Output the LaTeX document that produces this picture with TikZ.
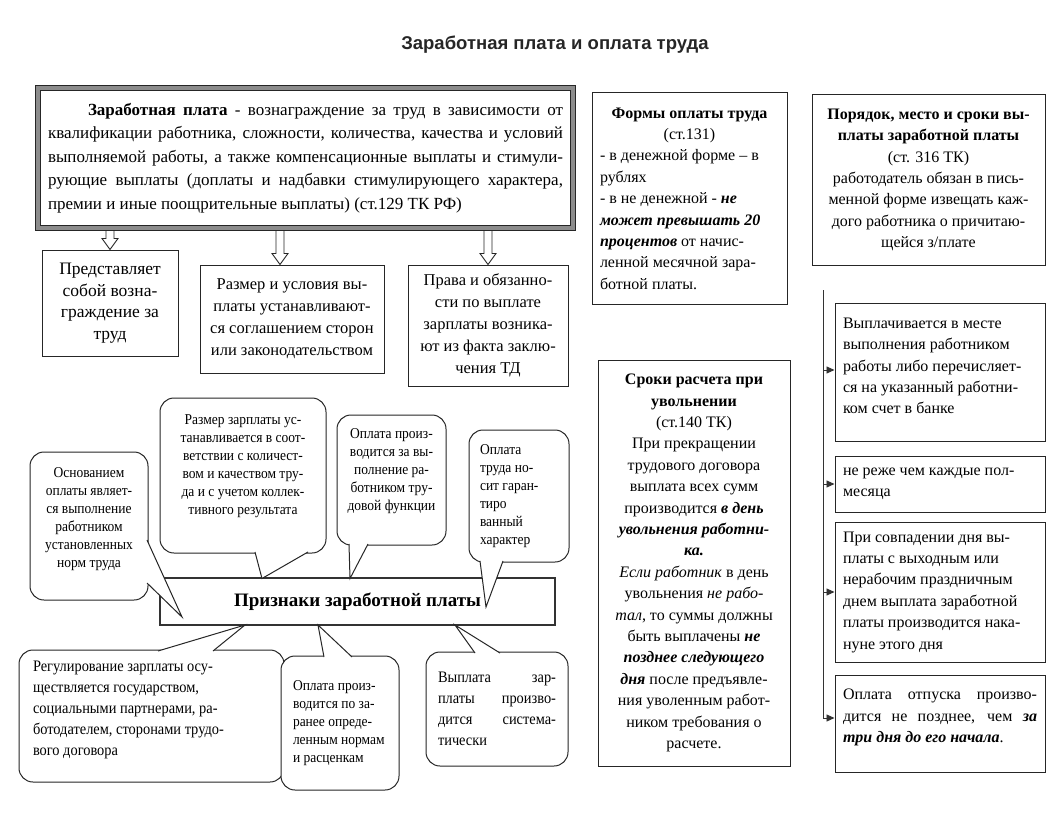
\documentclass[tikz,border=0pt]{standalone}
\usepackage{fontspec}
\setmainfont{Liberation Serif}
\newfontfamily\titlefont{Liberation Sans}
\newfontfamily\nserif[FakeStretch=0.9]{Liberation Serif}
\usetikzlibrary{calc,arrows.meta}
\newlength\bxs \setlength\bxs{8pt}
\newlength\bys \setlength\bys{4pt}
\newcommand\jl[1]{\makebox[\linewidth][s]{#1}}
\newcommand\bi[1]{\textbf{\textit{#1}}}
\newcommand\fA{\fontsize{17}{23.5}\selectfont}
\newcommand\fB{\fontsize{16.5}{22}\selectfont}
\newcommand\fBB{\fontsize{17.5}{21.5}\selectfont}
\newcommand\fC{\fontsize{16}{21.4}\selectfont}
\newcommand\fD{\nserif\fontsize{15}{18}\selectfont}
\newcommand\fE{\nserif\fontsize{16}{21}\selectfont}
\newcommand\mybox[8][]{%
 \node[boxst,#1] (#2) at ({(#3+#5)/2},{(#4+#6)/2})
 {\parbox[c][\dimexpr #6pt-#4pt-2\bys\relax][c]{\dimexpr #5pt-#3pt-2\bxs\relax}{#7#8}};}
\newcommand\ptr[3]{\fill[white] (#1) -- (#3) -- (#2) -- cycle; \draw[ptrst] (#1) -- (#3) -- (#2);}
\newcommand\harrow[2]{\draw[harrowst] ($(#1)+(-4,0)$) -- ($(#2)+(-4,-11)$) -- ($(#2)+(-8,-11)$) -- (#2) -- ($(#2)+(8,-11)$) -- ($(#2)+(4,-11)$) -- ($(#1)+(4,0)$);}
\tikzset{
 boxst/.style={draw=black!85, line width=1pt, fill=white, inner xsep=\bxs, inner ysep=\bys},
 mainst/.style={draw=black!85, line width=1pt, double=black!45, double distance=4pt},
 callst/.style={rounded corners=14pt},
 prizst/.style={line width=1.6pt, draw=black!80},
 ptrst/.style={draw=black!85, line width=1pt, line join=miter},
 harrowst/.style={draw=black!85, line width=0.9pt, fill=white},
 connst/.style={draw=black!80, line width=0.9pt},
 arrst/.style={connst, -{Triangle[length=8pt,width=7pt]}}
}
\begin{document}
\begin{tikzpicture}[x=1pt,y=-1pt]
\useasboundingbox (0,0) rectangle (1062,832);
\fill[white] (0,0) rectangle (1062,832);

\node[font=\titlefont\bfseries\fontsize{18.5}{22}\selectfont, text=black!85] (title) at (555,45) {Заработная плата и оплата труда};

% main definition box
\mybox[mainst,inner xsep=10pt]{main}{40}{88}{571}{228}{\fA}{%
\jl{\hspace*{40pt}\textbf{Заработная плата} - вознаграждение за труд в зависимости от}\\
\jl{квалификации работника, сложности, количества, качества и условий}\\
\jl{выполняемой работы, а также компенсационные выплаты и стимули-}\\
\jl{рующие выплаты (доплаты и надбавки стимулирующего характера,}\\
премии и иные поощрительные выплаты) (ст.129 ТК РФ)}

\mybox{b1}{42}{250}{178}{356}{\fBB\centering}{Представляет\\собой возна-\\граждение за\\труд}
\mybox{b2}{200}{265}{384}{373}{\fB\centering}{Размер и условия вы-\\платы устанавливают-\\ся соглашением сторон\\или законодательством}
\mybox{b3}{408}{265}{568}{386}{\fB\centering}{Права и обязанно-\\сти по выплате\\зарплаты возника-\\ют из факта заклю-\\чения ТД}

\coordinate (t1) at (b1.north);
\coordinate (t2) at ($(b2.north)+(-12,0)$);
\coordinate (t3) at (b3.north);
\coordinate (s1) at ($(main.south -| t1)+(0,2.5)$);
\coordinate (s2) at ($(main.south -| t2)+(0,2.5)$);
\coordinate (s3) at ($(main.south -| t3)+(0,2.5)$);
\harrow{s1}{t1}
\harrow{s2}{t2}
\harrow{s3}{t3}

% forms of payment
\mybox{forms}{592}{93}{787}{304}{\fC}{%
{\centering\textbf{Формы оплаты труда}\\(ст.131)\par}\raggedright
- в денежной форме – в\\рублях\\- в не денежной - \bi{не}\\\bi{может превышать 20}\\\bi{процентов} от начис-\\ленной месячной зара-\\ботной платы.}

% order
\mybox{order}{812}{95}{1045}{265}{\fC\centering}{%
\textbf{Порядок, место и сроки вы-}\\\textbf{платы заработной платы}\\(ст. 316 ТК)\\работодатель обязан в пись-\\менной форме извещать каж-\\дого работника о причитаю-\\щейся з/плате}

% right sub boxes
\mybox{ra}{835}{303}{1045}{441}{\fC\raggedright}{Выплачивается в месте\\выполнения работником\\работы либо перечисляет-\\ся на указанный работни-\\ком счет в банке\par\vspace{12pt}}
\mybox{rb}{835}{456}{1045}{512}{\fC\raggedright}{не реже чем каждые пол-\\месяца}
\mybox{rc}{835}{522}{1045}{662}{\fC\raggedright}{При совпадении дня вы-\\платы с выходным или\\нерабочим праздничным\\днем выплата заработной\\платы производится нака-\\нуне этого дня}
\mybox{rd}{835}{675}{1045}{772}{\fC\raggedright}{\jl{Оплата отпуска произво-}\\\jl{дится не позднее, чем \bi{за}}\\\bi{три дня до его начала}.\par\vspace{12pt}}

\coordinate (vt) at (823,290);
\coordinate (vb) at (823,718);
\draw[connst] (vt) -- (vb);
\draw[arrst] (vt |- 0,370) -- (ra.west |- 0,370);
\draw[arrst] (vt |- rb.west) -- (rb.west);
\draw[arrst] (vt |- rc.west) -- (rc.west);
\draw[arrst] (vb) -- (rd.west |- vb);

% dismissal
\mybox{dism}{598}{360}{790}{766}{\fC\centering}{%
\textbf{Сроки расчета при}\\\textbf{увольнении}\\(ст.140 ТК)\\При прекращении\\трудового договора\\выплата всех сумм\\производится \bi{в день}\\\bi{увольнения работни-}\\\bi{ка.}\\\textit{Если работник} в день\\увольнения \textit{не рабо-}\\\textit{тал}, то суммы должны\\быть выплачены \bi{не}\\\bi{позднее следующего}\\\bi{дня} после предъявле-\\ния уволенным работ-\\ником требования о\\расчете.}

% features box
\node[prizst, minimum width=395pt, minimum height=47pt, inner sep=0pt, font=\bfseries\fontsize{19}{22}\selectfont] (priz) at (357.5,601.5) {Признаки заработной платы};

% callouts
\mybox[callst]{c1}{30}{452}{148}{600}{\fD\centering}{Основанием\\оплаты являет-\\ся выполнение\\работником\\установленных\\норм труда\par\vspace{14pt}}
\mybox[callst]{c2}{160}{398}{326}{553}{\fD\centering}{Размер зарплаты ус-\\танавливается в соот-\\ветствии с количест-\\вом и качеством тру-\\да и с учетом коллек-\\тивного результата\par\vspace{18pt}}
\mybox[callst]{c3}{337}{415}{446}{545}{\fD\centering}{Оплата произ-\\водится за вы-\\полнение ра-\\ботником тру-\\довой функции\par\vspace{18pt}}
\mybox[callst,inner xsep=11pt]{c4}{472}{430}{566}{562}{\fD\raggedright}{Оплата\\труда но-\\сит гаран-\\тиро\\ванный\\характер}
\mybox[callst,inner xsep=14pt]{c5}{25}{650}{278}{782}{\fE\raggedright}{Регулирование зарплаты осу-\\ществляется государством,\\социальными партнерами, ра-\\ботодателем, сторонами трудо-\\вого договора\par\vspace{12pt}}
\mybox[callst,inner xsep=12pt]{c6}{285}{656}{395}{790}{\fD\raggedright}{Оплата произ-\\водится по за-\\ранее опреде-\\ленным нормам\\и расценкам}
\mybox[callst,inner xsep=12pt]{c7}{430}{652}{564}{766}{\fE\raggedright}{\jl{Выплата зар-}\\\jl{платы произво-}\\\jl{дится система-}\\тически}

\coordinate (p1a) at (147,540); \coordinate (p1b) at (147,583); \coordinate (p1t) at (182,617);
\coordinate (p2a) at (255,552); \coordinate (p2b) at (308,552); \coordinate (p2t) at (262,578.5);
\coordinate (p3a) at (349,544); \coordinate (p3b) at (368,544); \coordinate (p3t) at (350,578.5);
\coordinate (p4a) at (480,561); \coordinate (p4b) at (503,561); \coordinate (p4t) at (486,607);
\coordinate (p5a) at (158,651); \coordinate (p5b) at (213,651); \coordinate (p5t) at (245,625);
\coordinate (p6a) at (324,657); \coordinate (p6b) at (352,657); \coordinate (p6t) at (318,625);
\coordinate (p7a) at (475,653); \coordinate (p7b) at (500,653); \coordinate (p7t) at (455,625);
\ptr{p1a}{p1b}{p1t}
\ptr{p2a}{p2b}{p2t}
\ptr{p3a}{p3b}{p3t}
\ptr{p4a}{p4b}{p4t}
\ptr{p5a}{p5b}{p5t}
\ptr{p6a}{p6b}{p6t}
\ptr{p7a}{p7b}{p7t}
\end{tikzpicture}
\end{document}
